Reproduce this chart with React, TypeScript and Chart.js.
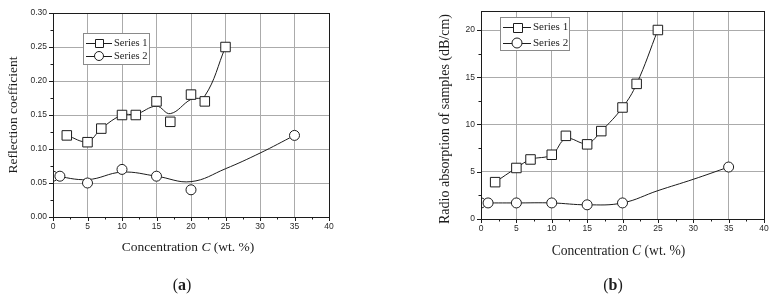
import React, { useEffect, useRef } from "react";
import { Chart, registerables } from "chart.js";

Chart.register(...registerables);

// ---------- Data: panel (a) reflection coefficient ----------
const concA1 = [2, 5, 7, 10, 12, 15, 17, 20, 22, 25];
const reflA1 = [0.12, 0.11, 0.13, 0.15, 0.15, 0.17, 0.14, 0.18, 0.17, 0.25];
const fitA1 = [0.12, 0.111, 0.13, 0.15, 0.151, 0.163, 0.152, 0.173, 0.178, 0.25];

const concA2 = [0, 1, 5, 10, 15, 20, 35];
const reflA2 = [0.06, 0.06, 0.05, 0.07, 0.06, 0.04, 0.12];
const fitConcA2 = [0, 5, 10, 15, 20, 25, 30, 35];
const fitA2 = [0.061, 0.055, 0.066, 0.06, 0.052, 0.071, 0.094, 0.12];

// ---------- Data: panel (b) radio absorption ----------
const concB1 = [2, 5, 7, 10, 12, 15, 17, 20, 22, 25];
const absB1 = [3.9, 5.4, 6.3, 6.8, 8.8, 7.9, 9.3, 11.8, 14.3, 20];
const fitB1 = [3.9, 5.4, 6.3, 6.8, 8.5, 8.0, 9.3, 11.8, 14.3, 20];

const concB2 = [0, 1, 5, 10, 15, 20, 35];
const absB2 = [1.7, 1.7, 1.7, 1.7, 1.5, 1.7, 5.5];
const fitConcB2 = [0, 5, 10, 15, 20, 25, 30, 35];
const fitB2 = [1.7, 1.7, 1.7, 1.5, 1.7, 3.0, 4.2, 5.5];

const seriesNames = ["Series 1", "Series 2"];
const xTitleParts = [
  { t: "Concentration ", i: false },
  { t: "C", i: true },
  { t: " (wt. %)", i: false },
];
const yTitleA = "Reflection coefficient";
const yTitleB = "Radio absorption of samples (dB/cm)";

const INK = "#1c1c1c";
const GRID = "#ababab";
const SERIF = '"Liberation Serif", "Times New Roman", serif';
const SANS = '"Liberation Sans", Arial, sans-serif';

const toPts = (xs: number[], ys: number[]) => xs.map((x, i) => ({ x, y: ys[i] }));
const isMul = (v: number, step: number) => Math.abs(v / step - Math.round(v / step)) < 1e-6;

function drawMarker(ctx: CanvasRenderingContext2D, kind: string, x: number, y: number, s: number) {
  ctx.beginPath();
  if (kind === "rect") {
    ctx.rect(Math.round(x - s / 2) + 0.5, Math.round(y - s / 2) + 0.5, Math.round(s), Math.round(s));
  } else {
    ctx.arc(x, y, s / 2, 0, Math.PI * 2);
  }
  ctx.fillStyle = "#fff";
  ctx.fill();
  ctx.strokeStyle = INK;
  ctx.lineWidth = 1;
  ctx.stroke();
}

const framePlugin = {
  id: "frame",
  afterDatasetsDraw(chart: any, _args: any, o: any) {
    const { ctx, chartArea: a, scales } = chart;
    ctx.save();
    // frame
    ctx.strokeStyle = INK;
    ctx.lineWidth = 1;
    ctx.strokeRect(Math.round(a.left) + 0.5, Math.round(a.top) + 0.5, Math.round(a.right - a.left), Math.round(a.bottom - a.top));
    // tick marks (outward)
    const xs = scales.x;
    const ys = scales.y;
    ctx.beginPath();
    xs.ticks.forEach((t: any) => {
      const p = Math.round(xs.getPixelForValue(t.value)) + 0.5;
      const L = isMul(t.value, o.xMajor) ? 4 : 2.5;
      ctx.moveTo(p, Math.round(a.bottom));
      ctx.lineTo(p, Math.round(a.bottom) + L);
    });
    ys.ticks.forEach((t: any) => {
      if (!isMul(t.value, o.yMinor)) return;
      const p = Math.round(ys.getPixelForValue(t.value)) + 0.5;
      const L = isMul(t.value, o.yMajor) ? 4 : 2.5;
      ctx.moveTo(Math.round(a.left), p);
      ctx.lineTo(Math.round(a.left) - L, p);
    });
    ctx.stroke();

    // x title with italic C
    ctx.fillStyle = INK;
    ctx.textBaseline = "middle";
    ctx.textAlign = "left";
    const fs = o.titleSize;
    const fontOf = (it: boolean) => `${it ? "italic " : ""}${fs}px ${SERIF}`;
    let total = 0;
    xTitleParts.forEach((p) => {
      ctx.font = fontOf(p.i);
      total += ctx.measureText(p.t).width;
    });
    let cx = o.xTitle.x - total / 2;
    xTitleParts.forEach((p) => {
      ctx.font = fontOf(p.i);
      ctx.fillText(p.t, cx, o.xTitle.y);
      cx += ctx.measureText(p.t).width;
    });
    // y title
    ctx.save();
    ctx.translate(o.yTitle.x, o.yTitle.y);
    ctx.rotate(-Math.PI / 2);
    ctx.textAlign = "center";
    ctx.font = `${o.yTitle.size}px ${SERIF}`;
    ctx.fillText(o.yTitle.text, 0, 0);
    ctx.restore();

    // legend
    const L = o.legend;
    const lx = Math.round(a.left + L.dx);
    const ly = Math.round(a.top + L.dy);
    ctx.fillStyle = "#fff";
    ctx.fillRect(lx, ly, L.w, L.h);
    ctx.strokeStyle = "#8a8a8a";
    ctx.strokeRect(lx + 0.5, ly + 0.5, L.w, L.h);
    const kinds = ["rect", "circle"];
    seriesNames.forEach((name, i) => {
      const yy = ly + L.rows[i];
      ctx.beginPath();
      ctx.strokeStyle = INK;
      ctx.moveTo(lx + 3, Math.round(yy) + 0.5);
      ctx.lineTo(lx + L.lineW, Math.round(yy) + 0.5);
      ctx.stroke();
      drawMarker(ctx, kinds[i], lx + 3 + (L.lineW - 3) / 2, yy, i === 0 ? L.sq : L.ci);
      ctx.fillStyle = INK;
      ctx.font = `${L.font}px ${SERIF}`;
      ctx.textAlign = "left";
      ctx.textBaseline = "middle";
      ctx.fillText(name, lx + L.lineW + 2, yy + 0.5);
    });
    ctx.restore();
  },
};

type PanelProps = {
  width: number;
  left: number;
  plot: { l: number; t: number; r: number; b: number };
  yMax: number;
  yStep: number;
  yMajor: number;
  yDecimals: number;
  s1: { x: number[]; y: number[]; fx: number[]; fy: number[] };
  s2: { x: number[]; y: number[]; fx: number[]; fy: number[] };
  frame: any;
  sq: number;
  ci: number;
};

function Panel(p: PanelProps) {
  const ref = useRef<HTMLCanvasElement | null>(null);
  useEffect(() => {
    if (!ref.current) return;
    const H = 299;
    const markerBase = {
      showLine: false,
      pointBackgroundColor: "#ffffff",
      pointBorderColor: INK,
      pointBorderWidth: 1,
      clip: 0,
    };
    const curveBase = {
      borderColor: INK,
      borderWidth: 1,
      pointRadius: 0,
      tension: 0.4,
      fill: false,
      clip: 0,
    };
    const chart = new Chart(ref.current, {
      type: "line",
      data: {
        datasets: [
          { ...markerBase, label: seriesNames[0], data: toPts(p.s1.x, p.s1.y), pointStyle: "rect", pointRadius: p.sq / Math.SQRT2 },
          { ...markerBase, label: seriesNames[1], data: toPts(p.s2.x, p.s2.y), pointStyle: "circle", pointRadius: p.ci / 2 },
          { ...curveBase, label: seriesNames[0] + " curve", data: toPts(p.s1.fx, p.s1.fy) },
          { ...curveBase, label: seriesNames[1] + " curve", data: toPts(p.s2.fx, p.s2.fy) },
        ] as any,
      },
      options: {
        responsive: false,
        animation: false,
        events: [],
        layout: { padding: { left: 0, top: p.plot.t, right: p.width - p.plot.r, bottom: 0 } },
        plugins: {
          legend: { display: false },
          tooltip: { enabled: false },
          frame: p.frame,
        } as any,
        scales: {
          x: {
            type: "linear",
            min: 0,
            max: 40,
            afterFit: (s: any) => {
              s.height = H - p.plot.b;
            },
            border: { display: false },
            grid: {
              drawTicks: false,
              color: (c: any) => (c.tick && isMul(c.tick.value, 5) ? GRID : "rgba(0,0,0,0)"),
              lineWidth: 1,
            },
            ticks: {
              stepSize: 2.5,
              autoSkip: false,
              maxRotation: 0,
              padding: 5,
              color: "#2a2a2a",
              font: { family: SANS, size: 8.5 },
              callback: (v: any) => (isMul(Number(v), 5) ? String(Math.round(Number(v))) : ""),
            },
          },
          y: {
            type: "linear",
            min: 0,
            max: p.yMax,
            afterFit: (s: any) => {
              s.width = p.plot.l;
            },
            border: { display: false },
            grid: {
              drawTicks: false,
              color: (c: any) => (c.tick && isMul(c.tick.value, p.yMajor) ? GRID : "rgba(0,0,0,0)"),
              lineWidth: 1,
            },
            ticks: {
              stepSize: p.yStep,
              autoSkip: false,
              padding: 6,
              color: "#2a2a2a",
              font: { family: SANS, size: 8.5 },
              callback: (v: any) => (isMul(Number(v), p.yMajor) ? Number(v).toFixed(p.yDecimals) : ""),
            },
          },
        },
      } as any,
      plugins: [framePlugin as any],
    });
    return () => chart.destroy();
  }, []);
  return (
    <canvas
      ref={ref}
      width={p.width}
      height={299}
      style={{ position: "absolute", left: p.left, top: 0, width: p.width, height: 299 }}
    />
  );
}

export default function App() {
  const caption = (cx: number, letter: string) => (
    <div
      style={{
        position: "absolute",
        left: cx - 30,
        top: 275,
        width: 60,
        textAlign: "center",
        font: `16px ${SERIF}`,
        lineHeight: "20px",
        color: INK,
      }}
    >
      (<b>{letter}</b>)
    </div>
  );
  return (
    <div style={{ position: "fixed", left: 0, top: 0, width: 776, height: 299, background: "#fff", overflow: "hidden" }}>
      <Panel
        width={400}
        left={0}
        plot={{ l: 53, t: 13, r: 329, b: 217 }}
        yMax={0.3}
        yStep={0.025}
        yMajor={0.05}
        yDecimals={2}
        s1={{ x: concA1, y: reflA1, fx: concA1, fy: fitA1 }}
        s2={{ x: concA2, y: reflA2, fx: fitConcA2, fy: fitA2 }}
        sq={9.5}
        ci={10}
        frame={{
          xMajor: 5,
          yMajor: 0.05,
          yMinor: 0.025,
          titleSize: 13.5,
          xTitle: { x: 188, y: 247 },
          yTitle: { x: 13, y: 115, text: yTitleA, size: 13.5 },
          legend: { dx: 30, dy: 20, w: 66, h: 31, rows: [9.5, 23], lineW: 29, font: 10.5, sq: 7.5, ci: 9 },
        }}
      />
      <Panel
        width={376}
        left={400}
        plot={{ l: 81, t: 10, r: 364, b: 219 }}
        yMax={22}
        yStep={2.5}
        yMajor={5}
        yDecimals={0}
        s1={{ x: concB1, y: absB1, fx: concB1, fy: fitB1 }}
        s2={{ x: concB2, y: absB2, fx: fitConcB2, fy: fitB2 }}
        sq={9.5}
        ci={10}
        frame={{
          xMajor: 5,
          yMajor: 5,
          yMinor: 2.5,
          titleSize: 13.6,
          xTitle: { x: 218.5, y: 251 },
          yTitle: { x: 45, y: 119, text: yTitleB, size: 14 },
          legend: { dx: 19, dy: 6, w: 69, h: 33, rows: [10, 26], lineW: 31, font: 11, sq: 8.5, ci: 10 },
        }}
      />
      {caption(182, "a")}
      {caption(613, "b")}
    </div>
  );
}
